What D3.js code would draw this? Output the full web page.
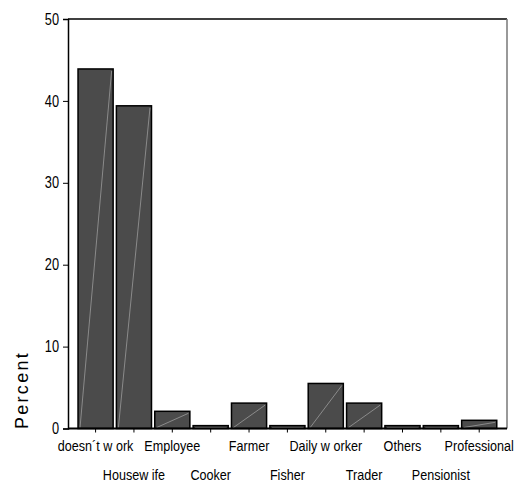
<!DOCTYPE html>
<html><head><meta charset="utf-8">
<script src="https://cdn.jsdelivr.net/npm/d3@7"></script>
<style>body{margin:0;background:#fff}</style>
</head><body>
<svg id="c" width="514" height="483"></svg>
<script>
const categories = ["doesn\u00b4t w ork","Housew ife","Employee","Cooker","Farmer","Fisher","Daily w orker","Trader","Others","Pensionist","Professional"];
const percents = [43.9, 39.4, 2.1, 0.35, 3.1, 0.35, 5.5, 3.1, 0.35, 0.35, 1.0];
const yTicks = [0, 10, 20, 30, 40, 50];

const svg = d3.select("#c");
const L = 68, R = 507, T = 19, B = 428.5;
const font = "'Liberation Sans', Arial, sans-serif";

const x = d3.scaleBand().domain(categories).range([76.5, 498.3]).paddingInner(0.085).paddingOuter(0.04);
const y = d3.scaleLinear().domain([0, 50]).range([B, T]);

// frame
svg.append("line").attr("x1", L).attr("x2", R).attr("y1", T).attr("y2", T).attr("stroke", "#000").attr("stroke-width", 1.5);
svg.append("line").attr("x1", R).attr("x2", R).attr("y1", T).attr("y2", B).attr("stroke", "#777").attr("stroke-width", 1.5);

// bars
const g = svg.append("g");
categories.forEach((c, i) => {
  const x0 = x(c), w = x.bandwidth(), yt = y(percents[i]);
  g.append("rect").attr("x", x0).attr("y", yt).attr("width", w).attr("height", B - yt)
    .attr("fill", "#4b4b4b").attr("stroke", "#000").attr("stroke-width", 1.5);
  g.append("line").attr("x1", x0 + 2).attr("y1", B - 1).attr("x2", x0 + w - 1.5).attr("y2", yt + 2)
    .attr("stroke", "#9a9a9a").attr("stroke-width", 0.8);
});

// y axis
const ya = svg.append("g").attr("transform", `translate(${L},0)`)
  .call(d3.axisLeft(y).tickValues(yTicks).tickSize(5).tickPadding(4));
ya.select(".domain").attr("stroke", "#000").attr("stroke-width", 1.5);
ya.selectAll(".tick text").each(function() {
  const t = d3.select(this);
  t.attr("font-family", font).attr("font-size", 16).attr("fill", "#000")
   .attr("x", -9 / 0.8).attr("transform", "scale(0.8,1)");
});

// x axis
const xa = svg.append("g").attr("transform", `translate(0,${B})`)
  .call(d3.axisBottom(x).tickSize(4).tickSizeOuter(0));
xa.select(".domain").remove();
svg.append("line").attr("x1", L).attr("x2", R).attr("y1", B).attr("y2", B).attr("stroke", "#000").attr("stroke-width", 2);
xa.selectAll(".tick text").attr("font-family", font).attr("font-size", 15).attr("fill", "#000")
  .attr("dy", null).attr("y", (d, i) => i % 2 === 0 ? 23 : 52)
  .attr("transform", "scale(0.84,1)");

// y label
svg.append("text").attr("transform", "translate(28,390) rotate(-90)").attr("text-anchor", "middle")
  .attr("font-family", font).attr("font-size", 18).attr("letter-spacing", 2.3)
  .text("Percent");
</script>
</body></html>
